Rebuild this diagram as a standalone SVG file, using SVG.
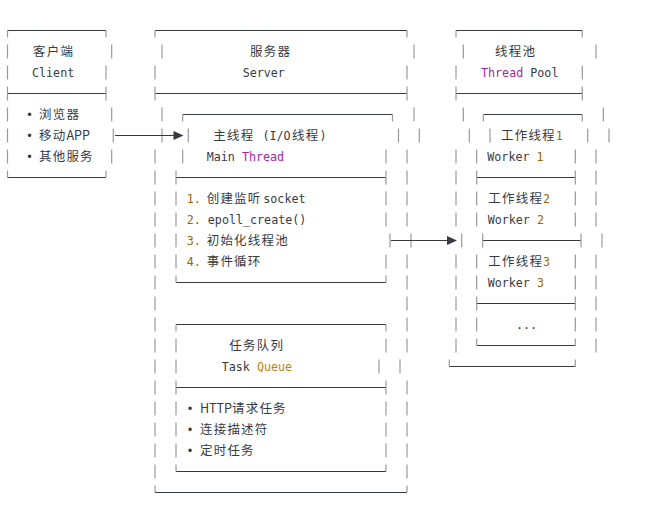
<svg xmlns="http://www.w3.org/2000/svg" width="665" height="532" viewBox="0 0 665 532">
<defs>
<style>
.h{fill:none;stroke:#383a42;stroke-width:1}
.v{fill:none;stroke:#9a9a9a;stroke-width:1.2}
.m{font-family:"DejaVu Sans Mono","Liberation Mono",monospace;font-size:11.7px;fill:#383a42}
.c{font-family:"Noto Sans CJK SC","Noto Sans",sans-serif;font-size:12.5px;letter-spacing:1.2px;fill:#383a42}
.s{font-family:"Noto Sans CJK SC","Noto Sans",sans-serif;font-size:12.5px;letter-spacing:0;fill:#383a42}
.kw{fill:#a626a4}
.num{fill:#986801}
.cls{fill:#c18401}
.b{font-family:"DejaVu Sans Mono",monospace;font-size:11.7px;fill:#383a42;text-anchor:middle}
.arr{fill:#383a42}
</style>
</defs>
<rect width="665" height="532" fill="#ffffff"/>

<g id="client">
<path class="h" d="M7.5 30.5H106M7.5 93.5H106M7.5 177.5H106"/>
<path class="v" d="M7.5 30.5V37.5M106 30.5V37.5M7.5 44.5V58.5M111.7 44.5V58.5M7.5 65.5V79.5M106 65.5V79.5M7.5 86.5V100.5M106 86.5V100.5M7.5 107.5V121.5M111.7 107.5V121.5M7.5 128.5V142.5M113.3 128.5V142.5M7.5 149.5V163.5M111.7 149.5V163.5M7.5 170.5V177.5M106 170.5V177.5"/>
<text class="c" x="33" y="56">客户端</text>
<text class="m" x="32" y="77">Client</text>
<text class="b" x="29.5" y="119">•</text>
<text class="c" x="39" y="119">浏览器</text>
<text class="b" x="29.5" y="140">•</text>
<text class="c" x="39" y="140">移动<tspan class="s">APP</tspan></text>
<text class="b" x="29.5" y="161">•</text>
<text class="c" x="39" y="161">其他服务</text>
</g>

<g id="server">
<path class="h" d="M155 30.5H407M155 93.5H407M155 492.5H407"/>
<path class="v" d="M155 30.5V37.5M407 30.5V37.5M162 44.5V58.5M414 44.5V58.5M155 65.5V79.5M407 65.5V79.5M155 86.5V100.5M407 86.5V100.5M162 107.5V121.5M414 107.5V121.5M162 128.5V142.5M419.3 128.5V142.5M155 149.5V163.5M407 149.5V163.5M155 170.5V184.5M407 170.5V184.5M155 191.5V205.5M407 191.5V205.5M155 212.5V226.5M407 212.5V226.5M155 233.5V247.5M411 233.5V247.5M155 254.5V268.5M407 254.5V268.5M155 275.5V289.5M407 275.5V289.5M155 296.5V310.5M407 296.5V310.5M155 317.5V331.5M407 317.5V331.5M155 338.5V352.5M407 338.5V352.5M155 359.5V373.5M400 359.5V373.5M155 380.5V394.5M407 380.5V394.5M155 401.5V415.5M407 401.5V415.5M155 422.5V436.5M407 422.5V436.5M155 443.5V457.5M407 443.5V457.5M155 464.5V478.5M407 464.5V478.5M155 485.5V492.5M407 485.5V492.5"/>
<text class="c" x="250" y="56">服务器</text>
<text class="m" x="242.7" y="77">Server</text>
</g>

<g id="main-thread">
<path class="h" d="M182.7 114.5H392.5M176 177.5H386M176 282.5H386"/>
<path class="v" d="M182.7 114.5V121.5M392.5 114.5V121.5M188.3 128.5V142.5M398.5 128.5V142.5M182.7 149.5V163.5M386 149.5V163.5M176 170.5V184.5M386 170.5V184.5M176 191.5V205.5M386 191.5V205.5M176 212.5V226.5M386 212.5V226.5M176 233.5V247.5M390 233.5V247.5M176 254.5V268.5M386 254.5V268.5M176 275.5V282.5M386 275.5V282.5"/>
<text class="c" x="213.3" y="140">主线程</text>
<text class="m" x="262.5" y="140">(I/O</text>
<text class="c" x="292" y="140">线程</text>
<text class="m" x="319.5" y="140">)</text>
<text class="m" x="206.7" y="161">Main <tspan class="kw">Thread</tspan></text>
<text class="m num" x="186.7" y="203">1.</text>
<text class="c" x="206.7" y="203">创建监听</text>
<text class="m" x="263.3" y="203">socket</text>
<text class="m" x="186.7" y="224"><tspan class="num">2.</tspan> epoll_create()</text>
<text class="m num" x="186.7" y="245">3.</text>
<text class="c" x="206.7" y="245">初始化线程池</text>
<text class="m num" x="186.7" y="266">4.</text>
<text class="c" x="206.7" y="266">事件循环</text>
</g>

<g id="task-queue">
<path class="h" d="M176 324.5H386M176 387.5H386M176 471.5H386"/>
<path class="v" d="M176 324.5V331.5M386 324.5V331.5M176 338.5V352.5M386 338.5V352.5M176 359.5V373.5M379 359.5V373.5M176 380.5V394.5M386 380.5V394.5M176 401.5V415.5M386 401.5V415.5M176 422.5V436.5M386 422.5V436.5M176 443.5V457.5M386 443.5V457.5M176 464.5V471.5M386 464.5V471.5"/>
<text class="c" x="229.3" y="350">任务队列</text>
<text class="m" x="221.7" y="371">Task <tspan class="cls">Queue</tspan></text>
<text class="b" x="190" y="413">•</text>
<text class="c" x="200" y="413"><tspan class="s">HTTP</tspan>请求任务</text>
<text class="b" x="190" y="434">•</text>
<text class="c" x="200" y="434">连接描述符</text>
<text class="b" x="190" y="455">•</text>
<text class="c" x="200" y="455">定时任务</text>
</g>

<g id="thread-pool">
<path class="h" d="M456 30.5H582.3M456 93.5H582.3M449.3 366.5H575.3"/>
<path class="v" d="M456 30.5V37.5M582.3 30.5V37.5M463.3 44.5V58.5M596 44.5V58.5M456 65.5V79.5M582.3 65.5V79.5M456 86.5V100.5M582.3 86.5V100.5M463.3 107.5V121.5M603.3 107.5V121.5M469.3 128.5V142.5M609 128.5V142.5M456 149.5V163.5M596 149.5V163.5M456 170.5V184.5M596 170.5V184.5M456 191.5V205.5M596 191.5V205.5M456 212.5V226.5M596 212.5V226.5M461.7 233.5V247.5M602 233.5V247.5M456 254.5V268.5M596 254.5V268.5M456 275.5V289.5M596 275.5V289.5M456 296.5V310.5M596 296.5V310.5M456 317.5V331.5M596 317.5V331.5M456 338.5V352.5M596 338.5V352.5M449.3 359.5V366.5M575.3 359.5V366.5"/>
<text class="c" x="495" y="56">线程池</text>
<text class="m" x="481" y="77"><tspan class="kw">Thread</tspan> Pool</text>
</g>

<g id="workers">
<path class="h" d="M483.3 114.5H582.3M476.7 177.5H575.3M482.7 240.5H581M476.7 303.5H575.3M476.7 345.5H575.3"/>
<path class="v" d="M483.3 114.5V121.5M582.3 114.5V121.5M490 128.5V142.5M587.7 128.5V142.5M476.7 149.5V163.5M575.3 149.5V163.5M476.7 170.5V184.5M575.3 170.5V184.5M476.7 191.5V205.5M575.3 191.5V205.5M476.7 212.5V226.5M575.3 212.5V226.5M482.7 233.5V247.5M581 233.5V247.5M476.7 254.5V268.5M575.3 254.5V268.5M476.7 275.5V289.5M575.3 275.5V289.5M476.7 296.5V310.5M575.3 296.5V310.5M476.7 317.5V331.5M575.3 317.5V331.5M476.7 338.5V345.5M575.3 338.5V345.5"/>
<text class="c" x="501" y="140">工作线程</text>
<text class="m num" x="555.8" y="140">1</text>
<text class="m" x="487.3" y="161">Worker <tspan class="num">1</tspan></text>
<text class="c" x="488.3" y="203">工作线程</text>
<text class="m num" x="543" y="203">2</text>
<text class="m" x="487.7" y="224">Worker <tspan class="num">2</tspan></text>
<text class="c" x="488.3" y="266">工作线程</text>
<text class="m num" x="543" y="266">3</text>
<text class="m" x="487.7" y="287">Worker <tspan class="num">3</tspan></text>
<text class="m" x="516" y="329">...</text>
</g>

<g id="connectors">
<path class="h" d="M115 135.5H174"/>
<polygon class="arr" points="173.5,131 183.5,135.5 173.5,140"/>
<path class="h" d="M391 240.5H447.5"/>
<polygon class="arr" points="447,236 457,240.5 447,245"/>
</g>
</svg>
